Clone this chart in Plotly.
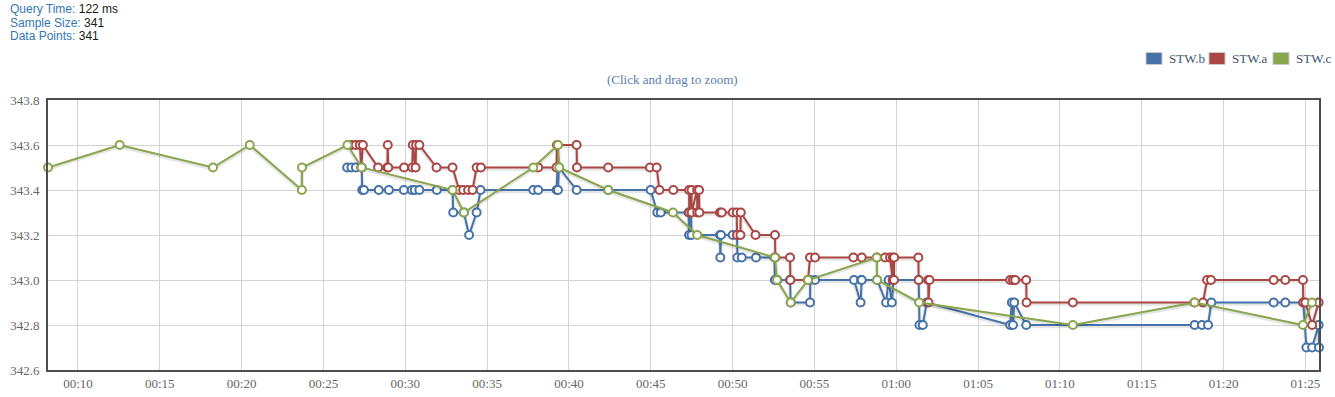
import pandas as pd
import plotly.graph_objects as go

# ---------------- data (time in minutes after 00:00, value) ----------------
b_min = [26.45, 26.71, 26.98, 27.34, 27.37, 27.47, 28.38, 29.00, 29.91, 30.40,
         30.58, 30.86, 31.93, 32.89, 32.93, 33.58, 33.90, 34.36, 34.60, 37.82,
         38.12, 39.25, 39.30, 39.33, 39.39, 40.47, 42.40, 44.99, 45.40, 45.61,
         47.31, 47.34, 47.46, 47.49, 49.23, 49.25, 49.29, 50.01, 50.27, 50.29,
         50.56, 51.43, 52.56, 52.58, 52.73, 53.51, 53.55, 54.73, 54.75, 55.04,
         57.42, 57.82, 57.85, 57.89, 58.83, 59.38, 59.53, 59.73, 59.83, 61.37,
         61.42, 61.62, 61.86, 66.96, 67.06, 67.13, 67.21, 67.94, 78.23, 78.68,
         79.05, 79.25, 83.06, 83.77, 84.87, 85.06, 85.41, 85.81, 85.83]
b_val = [343.5, 343.5, 343.5, 343.5, 343.4, 343.4, 343.4, 343.4, 343.4, 343.4,
         343.4, 343.4, 343.4, 343.4, 343.3, 343.3, 343.2, 343.3, 343.4, 343.4,
         343.4, 343.4, 343.5, 343.4, 343.5, 343.4, 343.4, 343.4, 343.3, 343.3,
         343.3, 343.2, 343.3, 343.2, 343.2, 343.1, 343.2, 343.2, 343.2, 343.1,
         343.1, 343.1, 343.1, 343.0, 343.0, 343.0, 342.9, 342.9, 343.0, 343.0,
         343.0, 342.9, 343.0, 343.0, 343.0, 342.9, 343.0, 342.9, 343.0, 343.0,
         342.8, 342.8, 342.9, 342.8, 342.9, 342.8, 342.9, 342.8, 342.8, 342.8,
         342.8, 342.9, 342.9, 342.9, 342.9, 342.7, 342.7, 342.8, 342.7]

a_min = [26.73, 26.98, 27.22, 27.31, 27.41, 28.34, 28.90, 28.93, 28.96, 29.93,
         30.43, 30.46, 30.63, 30.66, 30.86, 31.91, 32.89, 33.29, 33.54, 33.84,
         34.11, 34.36, 34.62, 38.12, 39.24, 39.27, 40.47, 40.49, 42.40, 44.95,
         45.36, 45.53, 46.38, 47.34, 47.35, 47.49, 47.50, 47.83, 47.84, 47.95,
         47.97, 49.23, 49.34, 50.01, 50.25, 50.27, 50.48, 50.50, 51.40, 52.59,
         52.61, 53.51, 53.53, 54.61, 54.73, 55.04, 57.38, 57.89, 58.81, 59.32,
         59.62, 59.78, 59.79, 59.86, 59.87, 61.35, 61.37, 61.95, 61.97, 62.03,
         66.96, 67.13, 67.27, 67.94, 67.96, 70.79, 78.21, 78.74, 78.99, 79.23,
         83.06, 83.77, 84.85, 84.87, 85.00, 85.41, 85.81]
a_val = [343.6, 343.6, 343.6, 343.5, 343.6, 343.5, 343.5, 343.6, 343.5, 343.5,
         343.5, 343.6, 343.5, 343.6, 343.6, 343.5, 343.5, 343.4, 343.4, 343.4,
         343.4, 343.5, 343.5, 343.5, 343.5, 343.6, 343.6, 343.5, 343.5, 343.5,
         343.5, 343.4, 343.4, 343.4, 343.3, 343.4, 343.3, 343.4, 343.3, 343.4,
         343.3, 343.3, 343.3, 343.3, 343.3, 343.2, 343.2, 343.3, 343.2, 343.2,
         343.1, 343.1, 343.0, 343.0, 343.1, 343.1, 343.1, 343.1, 343.1, 343.1,
         343.1, 343.0, 343.1, 343.0, 343.1, 343.1, 343.0, 343.0, 342.9, 343.0,
         343.0, 343.0, 343.0, 343.0, 342.9, 342.9, 342.9, 342.9, 343.0, 343.0,
         343.0, 343.0, 343.0, 342.9, 342.9, 342.8, 342.9]

c_min = [8.17, 12.55, 18.25, 20.50, 23.68, 23.69, 26.47, 27.33, 32.89, 33.58,
         37.82, 39.33, 39.41, 42.40, 46.36, 47.84, 52.59, 52.71, 53.55, 54.61,
         58.81, 58.83, 61.40, 70.79, 78.23, 84.85, 85.40]
c_val = [343.5, 343.6, 343.5, 343.6, 343.4, 343.5, 343.6, 343.5, 343.4, 343.3,
         343.5, 343.6, 343.5, 343.4, 343.3, 343.2, 343.1, 343.0, 342.9, 343.0,
         343.1, 343.0, 342.9, 342.8, 342.9, 342.8, 342.9]

series_names = ["STW.b", "STW.a", "STW.c"]
series_colors = ["#4572A7", "#AA4643", "#89A54E"]
info_labels = ["Query Time:", "Sample Size:", "Data Points:"]
info_values = ["122 ms", "341", "341"]
y_range = [342.6, 343.8]
y_step = 0.2

# ---------------- layout geometry (pixels) ----------------
W, H = 1335, 397
ML, MR, MT, MB = 48, 16, 100, 27
PW, PH = W - ML - MR, H - MT - MB


def px(xp):
    return (xp - ML) / PW


def py(yp):
    return (H - MB - yp) / PH


base = pd.Timestamp("2000-01-01")


def to_time(mins):
    return base + pd.to_timedelta(pd.Series(mins), unit="m")


data = [(b_min, b_val), (a_min, a_val), (c_min, c_val)]

fig = go.Figure()
dy_shadow = (y_range[1] - y_range[0]) / PH * 1.2
for (mins, vals), name, col in zip(data, series_names, series_colors):
    t = to_time(mins)
    fig.add_trace(go.Scatter(
        x=t, y=[v - dy_shadow for v in vals], mode="lines",
        line=dict(color="rgba(0,0,0,0.10)", width=4),
        hoverinfo="skip", showlegend=False, cliponaxis=False))
    fig.add_trace(go.Scatter(
        x=t, y=vals, mode="lines+markers", name=name,
        line=dict(color=col, width=2),
        marker=dict(symbol="circle", size=8, color="white",
                    line=dict(color=col, width=2)),
        showlegend=False, cliponaxis=False))

all_t = pd.concat([to_time(m) for m, _ in data])
x_min, x_max = all_t.min(), all_t.max()

serif = "Liberation Serif, Times New Roman, serif"
fig.update_layout(
    width=W, height=H, autosize=False,
    margin=dict(l=ML, r=MR, t=MT, b=MB, pad=0, autoexpand=False),
    paper_bgcolor="white", plot_bgcolor="white",
    showlegend=False,
    font=dict(family=serif, size=13, color="#666666"),
    xaxis=dict(
        type="date", range=[x_min, x_max], automargin=False,
        tickformat="%H:%M", dtick=5 * 60 * 1000, tick0=base,
        showgrid=True, gridcolor="#d3d3d3", gridwidth=1,
        showline=True, linecolor="#4d4d4d", linewidth=2, mirror=True,
        ticks="outside", ticklen=0, tickcolor="rgba(0,0,0,0)",
        tickfont=dict(family=serif, size=13, color="#666666"),
        zeroline=False,
    ),
    yaxis=dict(
        range=y_range, dtick=y_step, tick0=y_range[0], tickformat=".1f",
        automargin=False,
        showgrid=True, gridcolor="#d3d3d3", gridwidth=1,
        showline=True, linecolor="#4d4d4d", linewidth=2, mirror=True,
        ticks="outside", ticklen=4, tickcolor="rgba(0,0,0,0)",
        tickfont=dict(family=serif, size=13, color="#666666"),
        zeroline=False,
    ),
)

# info text top-left
for i, (lab, val) in enumerate(zip(info_labels, info_values)):
    fig.add_annotation(
        x=px(8), y=py(9 + i * 13.7), xref="paper", yref="paper",
        xanchor="left", yanchor="middle", showarrow=False,
        text=f"<span style='color:#3278b5'>{lab}</span> <span style='color:#1a1a1a'>{val}</span>",
        font=dict(family="Liberation Sans, Arial, sans-serif", size=12))

# subtitle
fig.add_annotation(
    x=px(672), y=py(80), xref="paper", yref="paper",
    xanchor="center", yanchor="middle", showarrow=False,
    text="(Click and drag to zoom)",
    font=dict(family=serif, size=13, color="#5b7db1"))

# legend (swatches + labels)
legend_x = [1146, 1209, 1273]
for lx, name, col in zip(legend_x, series_names, series_colors):
    fig.add_shape(type="rect", xref="paper", yref="paper",
                  x0=px(lx), x1=px(lx + 16), y0=py(64.5), y1=py(52.5),
                  fillcolor=col, line=dict(color="#c8c8c8", width=1))
    fig.add_annotation(
        x=px(lx + 21), y=py(58.5), xref="paper", yref="paper",
        xanchor="left", yanchor="middle", showarrow=False, text=name,
        font=dict(family=serif, size=13, color="#3E576F"))

fig.write_html(
    "out.html",
    config={"displayModeBar": False, "responsive": False},
    post_script="document.body.style.margin='0px';document.body.style.overflow='hidden';")
